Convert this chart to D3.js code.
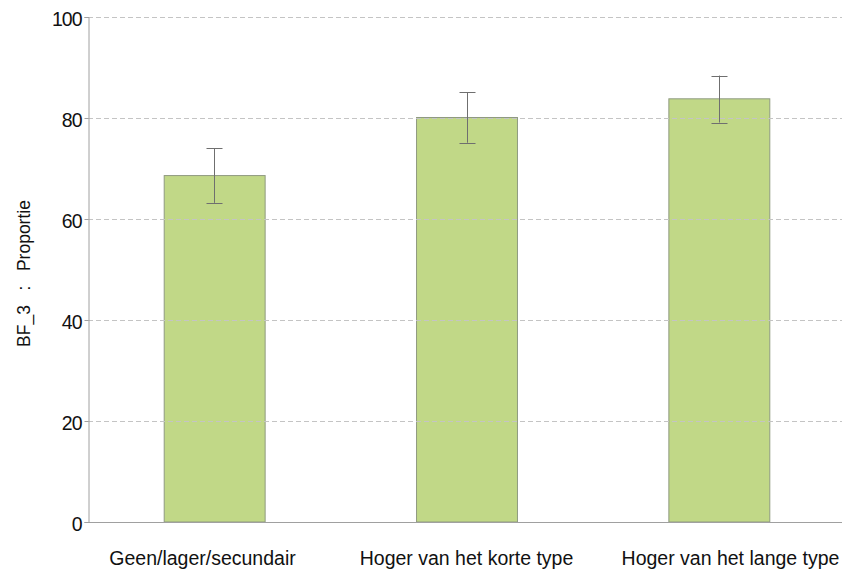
<!DOCTYPE html>
<html>
<head>
<meta charset="utf-8">
<script src="https://cdn.jsdelivr.net/npm/d3@7"></script>
<style>
  html, body { margin: 0; padding: 0; background: #fff; }
  svg { display: block; }
  text { font-family: "Liberation Sans", Arial, sans-serif; fill: #111; }
</style>
</head>
<body>
<svg id="chart" width="842" height="572"></svg>
<script>
// Proportion per education level, with confidence interval
const categories = ["Geen/lager/secundair", "Hoger van het korte type", "Hoger van het lange type"];
const values = [68.6, 80.1, 83.8];
const lower = [63.2, 75.1, 79.1];
const upper = [74.0, 85.1, 88.4];
const yTicks = [0, 20, 40, 60, 80, 100];
const yTitle = "BF_3   :   Proportie";

const svg = d3.select("#chart");
const margin = { left: 88, right: -3, top: 17, bottom: 50 };
const W = 842, H = 572;

const x = d3.scaleBand()
  .domain(categories)
  .range([margin.left, W - margin.right])
  .paddingInner(0.6)
  .paddingOuter(0.3);

// category labels are spread a little wider than the bars
const xLabel = d3.scalePoint()
  .domain(categories)
  .range([202, 730]);

const y = d3.scaleLinear()
  .domain([0, 100])
  .range([H - margin.bottom, margin.top]);

const data = categories.map((c, i) => ({ c, v: values[i], lo: lower[i], hi: upper[i] }));

// bars
svg.append("g").selectAll("rect").data(data).join("rect")
  .attr("x", d => x(d.c) + 0.5)
  .attr("y", d => y(d.v))
  .attr("width", x.bandwidth())
  .attr("height", d => y(0) - y(d.v))
  .attr("fill", "#c1d887")
  .attr("stroke", "#8f9a80")
  .attr("stroke-width", 1);

// dashed gridlines, drawn over the bars
svg.append("g").selectAll("line").data(yTicks.filter(t => t > 0)).join("line")
  .attr("x1", margin.left)
  .attr("x2", W)
  .attr("y1", d => Math.round(y(d)) + 0.5)
  .attr("y2", d => Math.round(y(d)) + 0.5)
  .attr("stroke", "#c4c4c4")
  .attr("stroke-width", 1)
  .attr("stroke-dasharray", "5,3");

// error bars
const eb = svg.append("g").attr("stroke", "#6f6f6f").attr("stroke-width", 1);
data.forEach(d => {
  const cx = Math.round(x(d.c) + x.bandwidth() / 2) + 0.5;
  eb.append("line").attr("x1", cx).attr("x2", cx)
    .attr("y1", y(d.hi)).attr("y2", y(d.lo));
  [d.hi, d.lo].forEach(v => {
    eb.append("line").attr("x1", cx - 8).attr("x2", cx + 8)
      .attr("y1", Math.round(y(v)) + 0.5).attr("y2", Math.round(y(v)) + 0.5);
  });
});

// y axis
const yAxis = svg.append("g")
  .attr("transform", `translate(${margin.left + 0.5},0)`)
  .call(d3.axisLeft(y).tickValues(yTicks).tickSize(4).tickPadding(3))
  .attr("font-size", 19.5)
  .attr("font-family", "Liberation Sans, Arial, sans-serif");
yAxis.select(".domain").attr("stroke", "#a0a0a0");
yAxis.selectAll(".tick line").attr("stroke", "#a0a0a0");
yAxis.selectAll(".tick text")
  .style("font-size", "19.5px")
  .style("letter-spacing", "-1px")
  .attr("dy", "0.42em")
  .attr("fill", "#111");

// x axis line
svg.append("line")
  .attr("x1", margin.left).attr("x2", W)
  .attr("y1", y(0) + 0.5).attr("y2", y(0) + 0.5)
  .attr("stroke", "#a0a0a0");

// x axis labels
const xAxis = svg.append("g")
  .attr("transform", `translate(0,${y(0) + 0.5})`)
  .call(d3.axisBottom(xLabel).tickSize(0).tickPadding(29))
  .attr("font-size", 19.5)
  .attr("font-family", "Liberation Sans, Arial, sans-serif");
xAxis.select(".domain").remove();
xAxis.selectAll(".tick text")
  .style("font-size", "19.5px")
  .attr("fill", "#111");

// y axis title
svg.append("text")
  .attr("transform", `translate(30,${(y(0) + y(100)) / 2 + 4}) rotate(-90)`)
  .attr("text-anchor", "middle")
  .attr("xml:space", "preserve")
  .style("white-space", "pre")
  .style("font-size", "17.5px")
  .text(yTitle);
</script>
</body>
</html>
